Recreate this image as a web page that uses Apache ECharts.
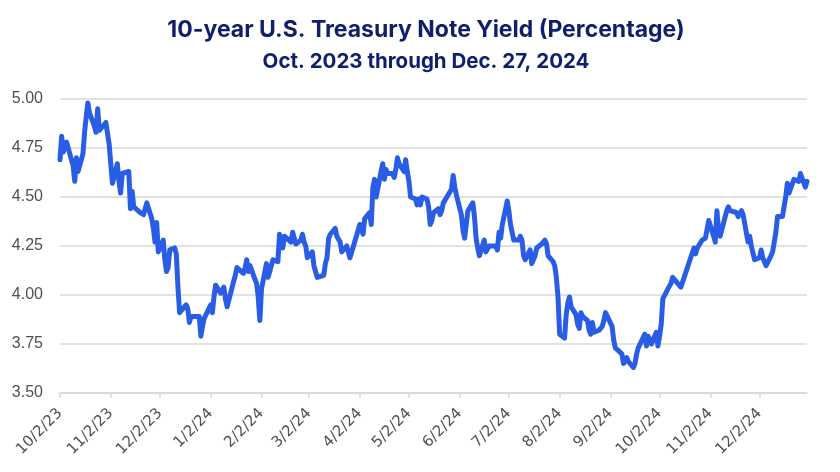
<!DOCTYPE html>
<html>
<head>
<meta charset="utf-8">
<script src="https://cdn.jsdelivr.net/npm/echarts@6/dist/echarts.min.js"></script>
<style>
  html, body { margin: 0; padding: 0; background: #ffffff; }
  #chart { width: 840px; height: 472px; }
</style>
</head>
<body>
<div id="chart"></div>
<script>
// Calendar range of the date axis
const axisStart = '2023-10-02';
const axisEnd = '2024-12-31';

// Labelled ticks (2nd of each month)
const tickLabels = ['10/2/23', '11/2/23', '12/2/23', '1/2/24', '2/2/24', '3/2/24', '4/2/24',
  '5/2/24', '6/2/24', '7/2/24', '8/2/24', '9/2/24', '10/2/24', '11/2/24', '12/2/24'];

// Trading days (M/D/YY)
const tradeDates = [
  '10/2/23','10/3/23','10/4/23','10/5/23','10/6/23','10/10/23','10/11/23','10/12/23','10/13/23','10/16/23','10/17/23','10/18/23','10/19/23','10/20/23','10/23/23','10/24/23','10/25/23','10/26/23','10/27/23','10/30/23','10/31/23',
  '11/1/23','11/2/23','11/3/23','11/6/23','11/7/23','11/8/23','11/9/23','11/10/23','11/13/23','11/14/23','11/15/23','11/16/23','11/17/23','11/20/23','11/21/23','11/22/23','11/24/23','11/27/23','11/28/23','11/29/23','11/30/23',
  '12/1/23','12/4/23','12/5/23','12/6/23','12/7/23','12/8/23','12/11/23','12/12/23','12/13/23','12/14/23','12/15/23','12/18/23','12/19/23','12/20/23','12/21/23','12/22/23','12/26/23','12/27/23','12/28/23','12/29/23',
  '1/2/24','1/3/24','1/4/24','1/5/24','1/8/24','1/9/24','1/10/24','1/11/24','1/12/24','1/16/24','1/17/24','1/18/24','1/19/24','1/22/24','1/23/24','1/24/24','1/25/24','1/26/24','1/29/24','1/30/24','1/31/24',
  '2/1/24','2/2/24','2/5/24','2/6/24','2/7/24','2/8/24','2/9/24','2/12/24','2/13/24','2/14/24','2/15/24','2/16/24','2/20/24','2/21/24','2/22/24','2/23/24','2/26/24','2/27/24','2/28/24','2/29/24',
  '3/1/24','3/4/24','3/5/24','3/6/24','3/7/24','3/8/24','3/11/24','3/12/24','3/13/24','3/14/24','3/15/24','3/18/24','3/19/24','3/20/24','3/21/24','3/22/24','3/25/24','3/26/24','3/27/24','3/28/24',
  '4/1/24','4/2/24','4/3/24','4/4/24','4/5/24','4/8/24','4/9/24','4/10/24','4/11/24','4/12/24','4/15/24','4/16/24','4/17/24','4/18/24','4/19/24','4/22/24','4/23/24','4/24/24','4/25/24','4/26/24','4/29/24','4/30/24',
  '5/1/24','5/2/24','5/3/24','5/6/24','5/7/24','5/8/24','5/9/24','5/10/24','5/13/24','5/14/24','5/15/24','5/16/24','5/17/24','5/20/24','5/21/24','5/22/24','5/23/24','5/24/24','5/28/24','5/29/24','5/30/24','5/31/24',
  '6/3/24','6/4/24','6/5/24','6/6/24','6/7/24','6/10/24','6/11/24','6/12/24','6/13/24','6/14/24','6/17/24','6/18/24','6/20/24','6/21/24','6/24/24','6/25/24','6/26/24','6/27/24','6/28/24',
  '7/1/24','7/2/24','7/3/24','7/5/24','7/8/24','7/9/24','7/10/24','7/11/24','7/12/24','7/15/24','7/16/24','7/17/24','7/18/24','7/19/24','7/22/24','7/23/24','7/24/24','7/25/24','7/26/24','7/29/24','7/30/24','7/31/24',
  '8/1/24','8/2/24','8/5/24','8/6/24','8/7/24','8/8/24','8/9/24','8/12/24','8/13/24','8/14/24','8/15/24','8/16/24','8/19/24','8/20/24','8/21/24','8/22/24','8/23/24','8/26/24','8/27/24','8/28/24','8/29/24','8/30/24',
  '9/3/24','9/4/24','9/5/24','9/6/24','9/9/24','9/10/24','9/11/24','9/12/24','9/13/24','9/16/24','9/17/24','9/18/24','9/19/24','9/20/24','9/23/24','9/24/24','9/25/24','9/26/24','9/27/24','9/30/24',
  '10/1/24','10/2/24','10/3/24','10/4/24','10/7/24','10/8/24','10/9/24','10/10/24','10/11/24','10/15/24','10/16/24','10/17/24','10/18/24','10/21/24','10/22/24','10/23/24','10/24/24','10/25/24','10/28/24','10/29/24','10/30/24','10/31/24',
  '11/1/24','11/4/24','11/5/24','11/6/24','11/7/24','11/8/24','11/12/24','11/13/24','11/14/24','11/15/24','11/18/24','11/19/24','11/20/24','11/21/24','11/22/24','11/25/24','11/26/24','11/27/24','11/29/24',
  '12/2/24','12/3/24','12/4/24','12/5/24','12/6/24','12/9/24','12/10/24','12/11/24','12/12/24','12/13/24','12/16/24','12/17/24','12/18/24','12/19/24','12/20/24','12/23/24','12/24/24','12/26/24','12/27/24','12/30/24','12/31/24'
];

// 10-year yield (%) for each trading day above
const yields = [
  4.69,4.81,4.73,4.72,4.78,4.66,4.58,4.70,4.63,4.72,4.83,4.91,4.98,4.93,4.86,4.83,4.95,4.84,4.84,4.88,4.88,
  4.77,4.67,4.57,4.67,4.58,4.52,4.62,4.61,4.63,4.44,4.53,4.45,4.44,4.42,4.41,4.41,4.47,4.39,4.34,4.27,4.37,
  4.22,4.28,4.18,4.12,4.14,4.23,4.24,4.21,4.04,3.91,3.91,3.95,3.93,3.86,3.89,3.90,3.89,3.79,3.84,3.88,
  3.95,3.91,3.99,4.05,4.01,4.02,4.04,3.98,3.94,4.07,4.10,4.14,4.15,4.11,4.14,4.18,4.12,4.15,4.08,4.06,3.99,
  3.87,4.03,4.16,4.09,4.12,4.15,4.18,4.17,4.31,4.27,4.24,4.30,4.27,4.32,4.33,4.26,4.28,4.31,4.27,4.25,
  4.19,4.22,4.15,4.12,4.09,4.09,4.10,4.16,4.19,4.29,4.31,4.34,4.30,4.30,4.27,4.22,4.25,4.24,4.19,4.20,
  4.33,4.36,4.36,4.31,4.39,4.42,4.36,4.55,4.59,4.50,4.63,4.67,4.59,4.64,4.62,4.62,4.60,4.64,4.70,4.67,4.63,4.69,
  4.63,4.58,4.50,4.49,4.46,4.49,4.46,4.50,4.49,4.45,4.36,4.38,4.42,4.44,4.41,4.43,4.47,4.47,4.54,4.61,4.55,4.51,
  4.41,4.33,4.29,4.29,4.43,4.47,4.40,4.29,4.24,4.20,4.28,4.22,4.25,4.26,4.25,4.23,4.32,4.29,4.36,
  4.48,4.43,4.36,4.28,4.28,4.30,4.28,4.20,4.18,4.23,4.16,4.16,4.20,4.24,4.26,4.25,4.28,4.26,4.20,4.17,4.15,4.09,
  3.99,3.80,3.78,3.90,3.96,3.99,3.94,3.90,3.85,3.83,3.91,3.89,3.87,3.82,3.80,3.86,3.81,3.82,3.83,3.84,3.87,3.91,
  3.84,3.77,3.73,3.72,3.70,3.65,3.66,3.68,3.66,3.63,3.65,3.70,3.73,3.73,3.80,3.74,3.79,3.79,3.75,3.81,
  3.74,3.79,3.85,3.98,4.03,4.04,4.06,4.09,4.10,4.04,4.03,4.09,4.08,4.19,4.20,4.24,4.21,4.24,4.28,4.28,4.29,4.29,
  4.38,4.30,4.27,4.43,4.33,4.30,4.43,4.45,4.43,4.43,4.42,4.40,4.41,4.43,4.41,4.27,4.30,4.25,4.18,
  4.19,4.23,4.19,4.18,4.15,4.20,4.22,4.27,4.32,4.40,4.40,4.40,4.50,4.57,4.52,4.59,4.59,4.58,4.62,4.55,4.58
];

// Build the calendar-day category axis
function fmt(d) {
  return (d.getUTCMonth() + 1) + '/' + d.getUTCDate() + '/' + String(d.getUTCFullYear()).slice(2);
}
const categories = [];
for (let d = new Date(axisStart + 'T00:00:00Z'); d <= new Date(axisEnd + 'T00:00:00Z'); d.setUTCDate(d.getUTCDate() + 1)) {
  categories.push(fmt(d));
}
const lookup = {};
tradeDates.forEach((t, i) => { lookup[t] = yields[i]; });
const seriesData = categories.map(c => (c in lookup ? lookup[c] : null));
const labelSet = new Set(tickLabels);

const chart = echarts.init(document.getElementById('chart'), null, { renderer: 'canvas' });
chart.setOption({
  animation: false,
  backgroundColor: '#ffffff',
  title: [
    {
      text: '10-year U.S. Treasury Note Yield (Percentage)',
      left: 421, top: 14, textAlign: 'center',
      textStyle: { color: '#0f1f6b', fontSize: 23, fontWeight: 700, fontFamily: 'Inter' }
    },
    {
      text: 'Oct. 2023 through Dec. 27, 2024',
      left: 421, top: 46, textAlign: 'center',
      textStyle: { color: '#0f1f6b', fontSize: 20.5, fontWeight: 700, fontFamily: 'Inter' }
    }
  ],
  grid: { left: 60, right: 33, top: 99, bottom: 79, containLabel: false },
  xAxis: {
    type: 'category',
    data: categories,
    boundaryGap: false,
    axisLine: { show: true, lineStyle: { color: '#d9d9d9', width: 1.5 } },
    axisTick: {
      show: true, length: 5,
      interval: (i, v) => labelSet.has(v),
      lineStyle: { color: '#d9d9d9', width: 1.5 }
    },
    axisLabel: {
      interval: (i, v) => labelSet.has(v),
      rotate: 45, margin: 18,
      color: '#505050', fontSize: 15, fontFamily: 'DejaVu Sans'
    },
    splitLine: { show: false }
  },
  yAxis: {
    type: 'value',
    min: 3.5, max: 5, interval: 0.25,
    axisLine: { show: false },
    axisTick: { show: false },
    axisLabel: {
      formatter: v => v.toFixed(2), margin: 17,
      color: '#505050', fontSize: 16, fontFamily: 'Liberation Sans'
    },
    splitLine: { show: true, lineStyle: { color: '#d9d9d9', width: 1.5 } }
  },
  series: [{
    type: 'line',
    data: seriesData,
    connectNulls: true,
    showSymbol: false,
    symbol: 'none',
    lineStyle: { color: '#2a5de6', width: 5, join: 'round', cap: 'round' },
    z: 3
  }]
});
</script>
</body>
</html>
